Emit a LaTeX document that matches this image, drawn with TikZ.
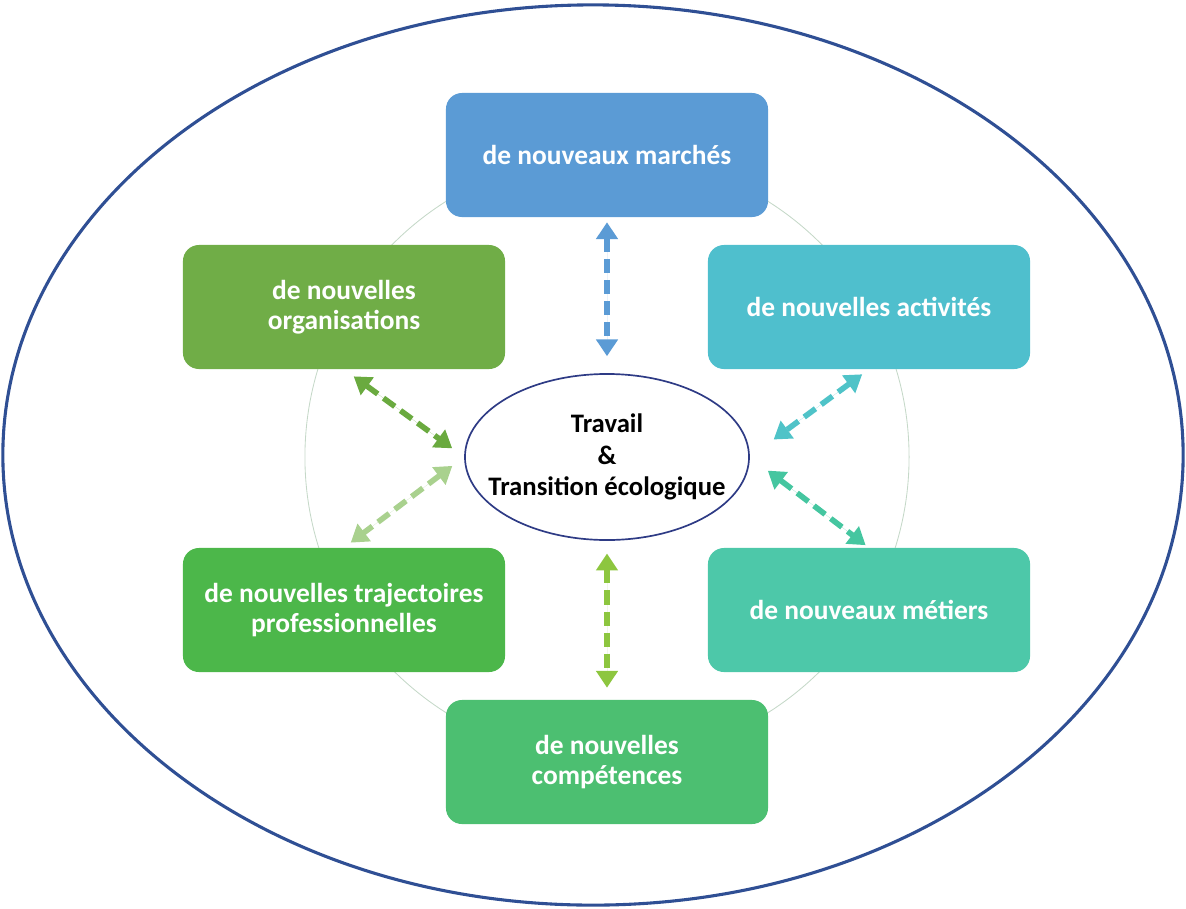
\documentclass[tikz,border=0pt]{standalone}
\usepackage{fontspec}
\setmainfont{Carlito}
\usetikzlibrary{arrows.meta}
\usetikzlibrary{shapes.geometric}
\usetikzlibrary{positioning}

\definecolor{marchC}{HTML}{5B9BD5}
\definecolor{activC}{HTML}{4FBFCD}
\definecolor{orgaC}{HTML}{70AD47}
\definecolor{trajC}{HTML}{4CB74A}
\definecolor{metiC}{HTML}{4DC8A9}
\definecolor{compC}{HTML}{4CBF71}
\definecolor{orgaA}{HTML}{6AAA3F}
\definecolor{trajA}{HTML}{A9D18E}
\definecolor{activA}{HTML}{4FC3C8}
\definecolor{metiA}{HTML}{45C6A0}
\definecolor{compA}{HTML}{8DC63F}
\definecolor{frameC}{HTML}{2F4F94}
\definecolor{centreC}{HTML}{2E3B85}
\definecolor{ringC}{HTML}{C5D8C8}

\begin{document}
\begin{tikzpicture}[x=0.025cm,y=-0.025cm,
    box node/.style={rectangle,rounded corners=0.4cm,fill=#1,text=white,
      minimum width=8.05cm,minimum height=3.1cm,align=center,
      font=\fontsize{19.5}{21.5}\selectfont\bfseries},
    centre node/.style={ellipse,draw=centreC,line width=1.2pt,fill=white,
      minimum width=7.1cm,minimum height=4.15cm,inner xsep=-16pt,inner ysep=0pt,align=center,
      font=\fontsize{19}{22.5}\selectfont\bfseries},
    link/.style={{Triangle[length=12pt,width=15pt]}-{Triangle[length=12pt,width=15pt]},
      line width=4pt,dash pattern=on 10pt off 5pt,draw=#1,fill=#1}]
   \useasboundingbox (0,0) rectangle (1186,909);
   \draw[frameC,line width=2.2pt] (593,455) ellipse [x radius=14.75cm,y radius=11.25cm];
   \draw[ringC,line width=0.6pt] (607,457) circle [radius=7.55cm];

   \node[centre node] (tr) at (607,457) {Travail\\\&\\Transition écologique};

   \node[box node=marchC] (march) at (607,155) {de nouveaux marchés};
   \node[box node=activC] (activ) at (869,307) {de nouvelles activités};
   \node[box node=orgaC]  (orga)  at (344,307) {de nouvelles\\organisations};
   \node[box node=trajC]  (traj)  at (344,610) {de nouvelles trajectoires\\professionnelles};
   \node[box node=metiC]  (meti)  at (869,610) {de nouveaux métiers};
   \node[box node=compC]  (comp)  at (607,762) {de nouvelles\\compétences};

   \draw[link=marchC,shorten <=3.5pt,shorten >=12pt] (march.south) -- (tr.north);
   \draw[link=orgaA,shorten <=8.5pt,shorten >=10.5pt] (orga.south) -- (tr.west);
   \draw[link=trajA,shorten <=10.5pt,shorten >=6pt] (tr.west) -- (traj.north);
   \draw[link=activA,shorten <=6pt,shorten >=21pt] (activ.south) -- (tr.east);
   \draw[link=metiA,shorten <=16pt,shorten >=3pt] (tr.east) -- (meti.north);
   \draw[link=compA,shorten <=9pt,shorten >=8.5pt] (tr.south) -- (comp.north);
\end{tikzpicture}
\end{document}
